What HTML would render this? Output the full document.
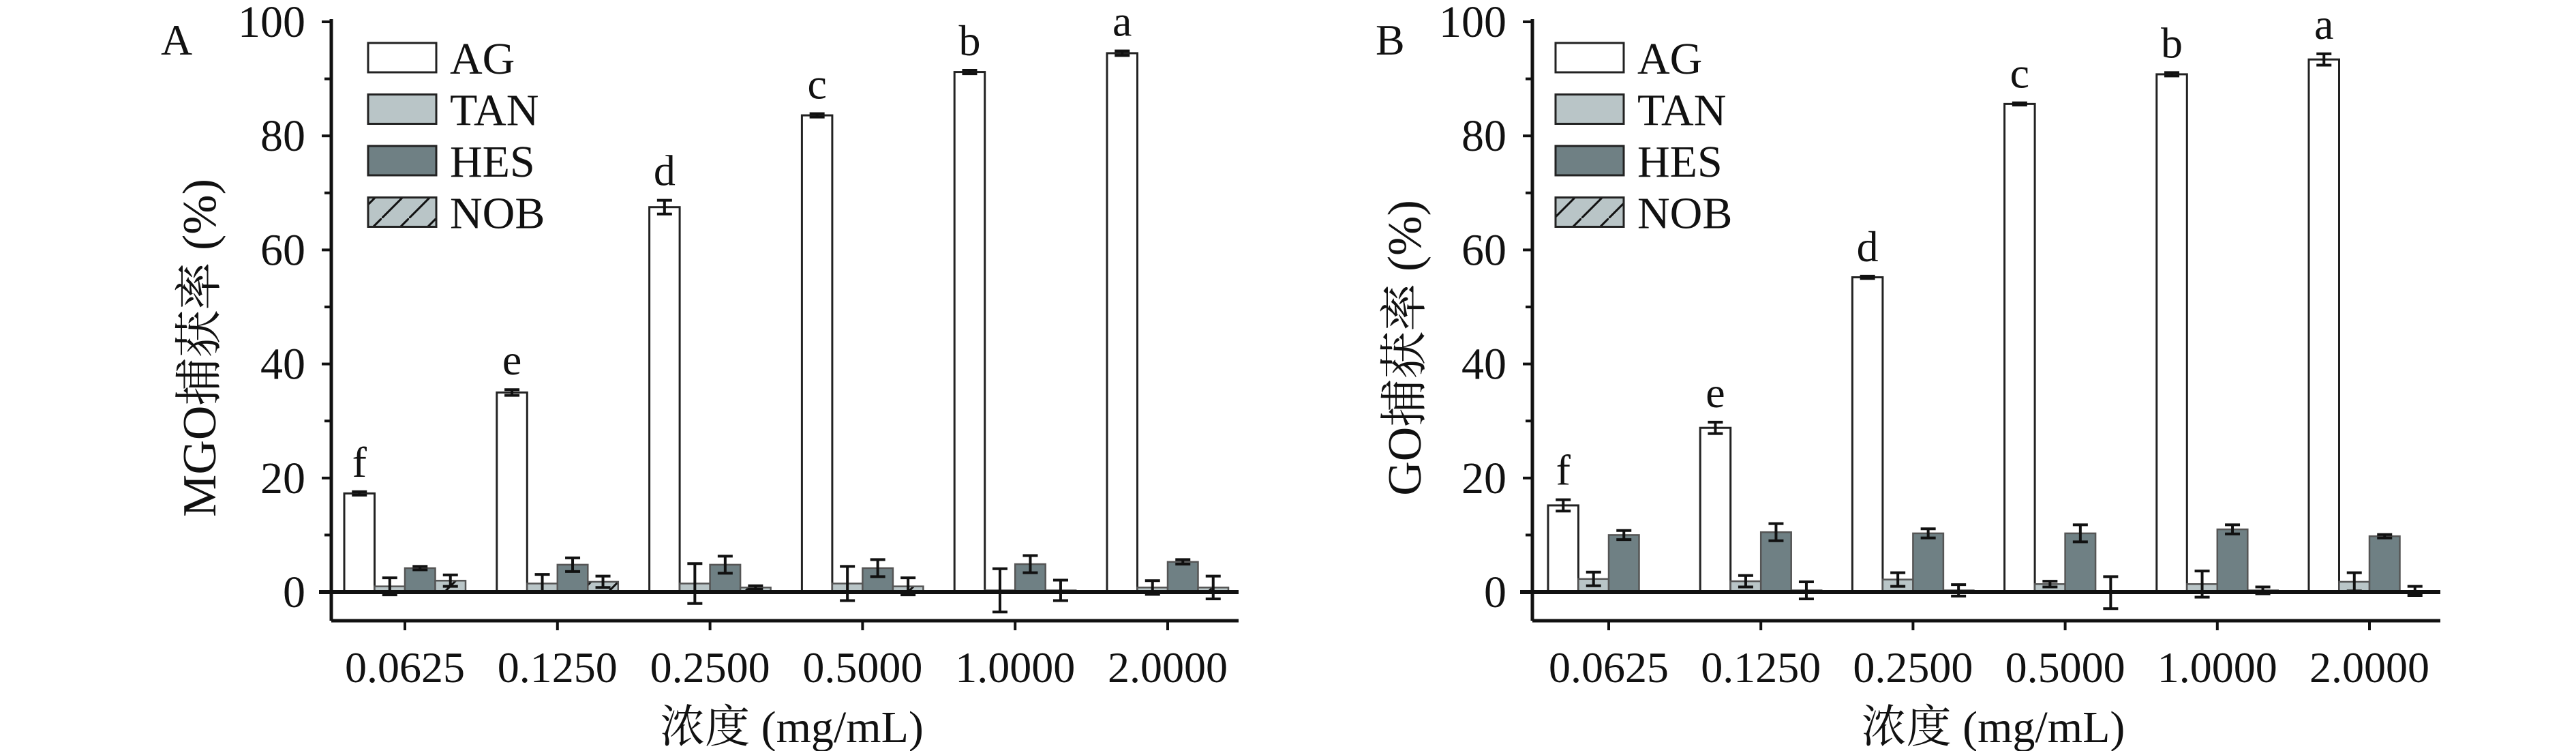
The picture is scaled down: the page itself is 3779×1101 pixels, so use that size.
<!DOCTYPE html>
<html><head><meta charset="utf-8"><style>
html,body{margin:0;padding:0;background:#fff;}
svg{display:block;}
text{font-family:"Liberation Serif","Noto Serif CJK SC",serif;fill:#111;}
</style></head><body>
<svg id="fig" width="3779" height="1101" viewBox="0 0 3779 1101" xmlns="http://www.w3.org/2000/svg">
<defs>
<pattern id="hatch" patternUnits="userSpaceOnUse" width="40" height="40">
<rect width="40" height="40" fill="#b9c5c7"/>
<path d="M-10,50 L50,-10" stroke="#111" stroke-width="3"/>
</pattern>
</defs>
</svg>
<script>
const categories = ["0.0625","0.1250","0.2500","0.5000","1.0000","2.0000"];
const seriesNames = ["AG","TAN","HES","NOB"];
const yTicks = [0,20,40,60,80,100];
const sigLetters = ["f","e","d","c","b","a"];
const agA = [17.3,35.0,67.5,83.6,91.2,94.5];
const agAErr = [0.3,0.5,1.2,0.3,0.3,0.4];
const tanA = [1.0,1.5,1.5,1.5,0.3,0.8];
const tanAErr = [1.5,1.6,3.5,3.0,3.8,1.2];
const hesA = [4.2,4.8,4.8,4.2,4.9,5.3];
const hesAErr = [0.3,1.2,1.5,1.5,1.5,0.4];
const nobA = [2.0,1.8,0.8,1.0,0.3,0.8];
const nobAErr = [1.0,1.0,0.3,1.5,1.8,2.0];
const agB = [15.2,28.8,55.2,85.6,90.8,93.4];
const agBErr = [1.0,1.0,0.2,0.2,0.3,1.0];
const tanB = [2.3,1.9,2.2,1.4,1.4,1.8];
const tanBErr = [1.2,1.0,1.2,0.5,2.3,1.6];
const hesB = [10.0,10.5,10.3,10.3,11.0,9.8];
const hesBErr = [0.8,1.5,0.8,1.5,0.8,0.3];
const nobB = [0.1,0.3,0.3,-0.1,0.3,0.2];
const nobBErr = [0.0,1.5,1.0,2.8,0.6,0.8];

const NS="http://www.w3.org/2000/svg";
const svg=document.getElementById('fig');
function mk(tag,attrs,parent){const e=document.createElementNS(NS,tag);for(const k in attrs)e.setAttribute(k,attrs[k]);(parent||svg).appendChild(e);return e;}
const fills=["#ffffff","#b9c5c7","#6f8084","url(#hatch)"];

function panel(opt){
  const g=mk('g',{});
  
  
  const x0=opt.axisX, xEnd=opt.axisEnd, yTop=32, y0=868, yBot=910;
  const yScale=v=>y0-(v/100)*(y0-yTop);
  const firstTick=opt.firstTick, step=(opt.lastTick-firstTick)/5;
  const xCat=i=>firstTick+i*step;
  const bw=44.5;
  const lt=mk('text',{x:opt.letterX,y:80,'font-size':64},g);lt.textContent=opt.letter;
  
  
  const ya=mk('line',{x1:x0,y1:yTop-4,x2:x0,y2:yBot,stroke:'#111','stroke-width':5},g);
  
  
  for(let v=0;v<=100;v+=10){
    const t=mk('line',{x1:x0-(v%20===0?14:10),y1:yScale(v),x2:x0,y2:yScale(v),stroke:'#111','stroke-width':4},g);
    
    
  }
  yTicks.forEach(v=>{
    const t=mk('text',{x:x0-38,y:yScale(v)+22,'font-size':66,'text-anchor':'end'},g);
    t.textContent=String(v);
    
    
  });
  const bf=mk('line',{x1:x0,y1:yBot,x2:xEnd,y2:yBot,stroke:'#111','stroke-width':5},g);
  
  
  const series=opt.series, errs=opt.errs;
  categories.forEach((c,i)=>{
    const cx=xCat(i);
    series.forEach((arr,s)=>{
      const v=arr[i], e=errs[s][i];
      const bx=cx-2*bw+s*bw;
      const top=Math.min(yScale(v),y0), h=Math.abs(yScale(v)-y0);
      const r=mk('rect',{x:bx,y:top,width:bw,height:Math.max(h,1),fill:fills[s],stroke:s===0?'#222':'#555','stroke-width':s===0?3:2.5},g);
      
      
      if(e>0){
        const mx=bx+bw/2, y1=yScale(v+e), y2=yScale(v-e);
        const eb=mk('path',{d:`M${mx-11},${y1}H${mx+11}M${mx},${y1}V${y2}M${mx-11},${y2}H${mx+11}`,stroke:'#111','stroke-width':4,fill:'none'},g);
        
        
      }
    });
    const agv=series[0][i]+errs[0][i];
    const sl=mk('text',{x:cx-2*bw+bw/2,y:yScale(agv)-22,'font-size':64,'text-anchor':'middle'},g);
    sl.textContent=sigLetters[i];
    
    
    const tk=mk('line',{x1:cx,y1:yBot,x2:cx,y2:yBot+14,stroke:'#111','stroke-width':4},g);
    
    
    const tl=mk('text',{x:cx,y:1000,'font-size':64,'text-anchor':'middle'},g);
    tl.textContent=c;
    
    
  });
  const zl=mk('line',{x1:x0-18,y1:y0,x2:xEnd,y2:y0,stroke:'#111','stroke-width':6},g);
  
  
  const xt=mk('text',{x:(x0+xEnd)/2+10,y:1088,'font-size':66,'text-anchor':'middle'},g);
  xt.textContent='浓度 (mg/mL)';
  
  
  const yt=mk('text',{x:0,y:0,'font-size':70,'text-anchor':'middle',transform:`translate(${opt.yTitleX},${opt.yTitleY}) rotate(-90)`},g);
  yt.textContent=opt.yTitle;
  
  
  const lg=mk('g',{},g);
  
  
  seriesNames.forEach((n,s)=>{
    const ly=63+s*75.5;
    const b=mk('rect',{x:opt.legendX,y:ly,width:100,height:43,fill:fills[s],stroke:'#222','stroke-width':3},lg);
    
    
    const t=mk('text',{x:opt.legendX+120,y:ly+45,'font-size':66},lg);
    t.textContent=n;
    
    
  });
}
panel({name:'panel-a',letter:'A',letterX:236,axisX:486,axisEnd:1817,firstTick:594,lastTick:1713,
  series:[agA,tanA,hesA,nobA],errs:[agAErr,tanAErr,hesAErr,nobAErr],yTitle:'MGO捕获率 (%)',yTitleX:316,yTitleY:510,legendX:540});
panel({name:'panel-b',letter:'B',letterX:2018,axisX:2248,axisEnd:3580,firstTick:2360,lastTick:3476,
  series:[agB,tanB,hesB,nobB],errs:[agBErr,tanBErr,hesBErr,nobBErr],yTitle:'GO捕获率 (%)',yTitleX:2084,yTitleY:510,legendX:2282});
</script>
</body></html>
